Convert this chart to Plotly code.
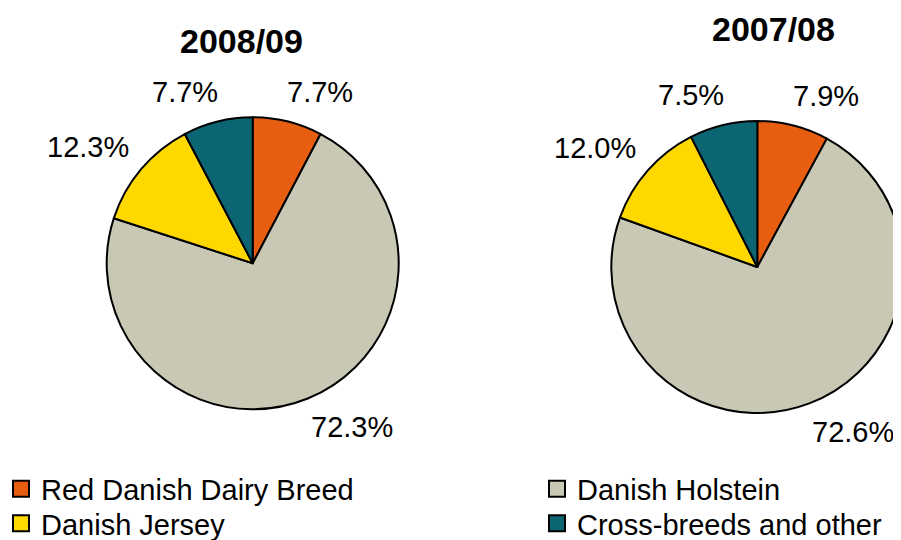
import math
import plotly.graph_objects as go

# ---------------- data ----------------
breeds = ["Red Danish Dairy Breed", "Danish Holstein", "Danish Jersey", "Cross-breeds and other"]
colors = ["#E85E10", "#C8C8B4", "#FFD800", "#0B6573"]
years = ["2008/09", "2007/08"]
share_2008_09 = [7.7, 72.3, 12.3, 7.7]
share_2007_08 = [7.9, 72.6, 12.0, 7.5]

# ---------------- layout constants ----------------
W, H = 901, 540
OFF = 8  # page body margin offset (screen = figure + OFF)
FONT = "Liberation Sans, Arial, sans-serif"
# pie domains in screen pixels: (x0, x1, ytop, ybottom)
doms = [(106.7, 398.7, 117.3, 409.3), (611.3, 903.3, 121.0, 413.0)]
title_pos = [(241, 41), (773, 29)]
# legend item positions in screen pixels (x of left edge, y of centre)
leg_pos = [(1, 489), (537, 489), (1, 523.5), (537, 523.5)]


def fx(xs):
    return (xs - OFF) / W


def fy(ys):
    return 1 - (ys - OFF) / H


fig = go.Figure()
ann = []

for k, (year, vals) in enumerate(zip(years, [share_2008_09, share_2007_08])):
    x0, x1, yt, yb = doms[k]
    fig.add_trace(go.Pie(
        labels=breeds, values=vals, sort=False, direction="clockwise", rotation=0,
        marker=dict(colors=colors, line=dict(color="black", width=2)),
        textinfo="none", hoverinfo="label+percent", showlegend=False,
        domain=dict(x=[fx(x0), fx(x1)], y=[fy(yb), fy(yt)]),
    ))
    # outside percentage labels, derived from the slice angles
    cx, cy = (x0 + x1) / 2, (yt + yb) / 2
    r = min(x1 - x0, yb - yt) / 2
    tot = sum(vals)
    cum = 0
    for v in vals:
        th = math.radians((cum + v / 2) / tot * 360)
        cum += v
        s, c = math.sin(th), math.cos(th)
        R = r + 24
        px, py = cx + R * s, cy - R * c
        if s > 0.05:
            xa, px = "left", px - 8
        elif s < -0.05:
            xa, px = "right", px + 8
        else:
            xa = "center"
        py = py - 6.5 * (1 if c > 0 else -1)
        ann.append(dict(x=fx(px), y=fy(py), xref="paper", yref="paper",
                        text=f"{v:.1f}%", showarrow=False, xanchor=xa, yanchor="middle",
                        font=dict(family=FONT, size=29, color="black")))
    tx, ty = title_pos[k]
    ann.append(dict(x=fx(tx), y=fy(ty), xref="paper", yref="paper",
                    text=f"<b>{year}</b>", showarrow=False, xanchor="center", yanchor="middle",
                    font=dict(family=FONT, size=34, color="black")))

# legend entries (one legend box per entry, arranged in two columns)
legends = {}
for i, (name, col) in enumerate(zip(breeds, colors)):
    lname = "legend" if i == 0 else f"legend{i + 1}"
    fig.add_trace(go.Scatter(
        x=[None], y=[None], mode="markers", name=name,
        marker=dict(symbol="square", size=18, color=col, line=dict(color="black", width=2)),
        legend=lname, hoverinfo="skip",
    ))
    lx, ly = leg_pos[i]
    legends[lname] = dict(orientation="v", x=fx(lx), y=fy(ly), xanchor="left", yanchor="middle",
                          font=dict(family=FONT, size=29, color="black"),
                          bgcolor="rgba(0,0,0,0)", itemsizing="trace")

fig.update_layout(
    width=W, height=H,
    margin=dict(l=0, r=0, t=0, b=0, autoexpand=False),
    paper_bgcolor="white", plot_bgcolor="white",
    annotations=ann,
    xaxis=dict(visible=False), yaxis=dict(visible=False),
    font=dict(family=FONT),
    **legends,
)

fig.write_html("out.html")
